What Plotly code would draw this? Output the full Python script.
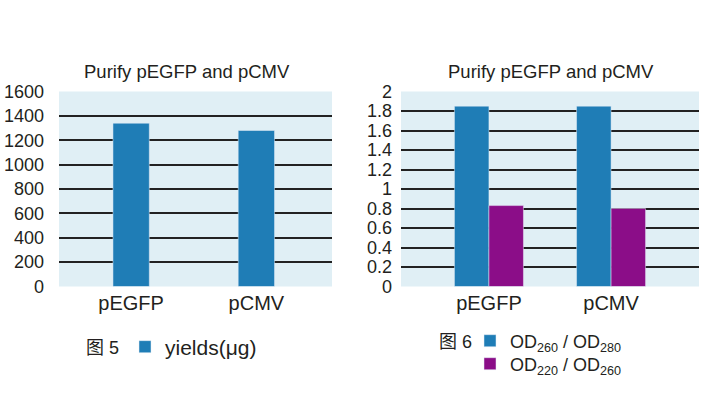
import plotly.graph_objects as go

categories = ["pEGFP", "pCMV"]
yields = [1340, 1280]
od260_280 = [1.85, 1.85]
od220_260 = [0.83, 0.80]

left_ticks = [0, 200, 400, 600, 800, 1000, 1200, 1400, 1600]
left_grid = [200, 400, 600, 800, 1000, 1200, 1400]
right_ticks = [0, 0.2, 0.4, 0.6, 0.8, 1, 1.2, 1.4, 1.6, 1.8, 2]
right_ticktext = ["0", "0.2", "0.4", "0.6", "0.8", "1", "1.2", "1.4", "1.6", "1.8", "2"]
right_grid = [0.2, 0.4, 0.6, 0.8, 1, 1.2, 1.4, 1.6, 1.8]

BLUE = "#1f7db6"
PURPLE = "#8b0d88"
BG = "#e0eff5"
FONT = "Liberation Sans, Arial, Noto Sans CJK SC"
TXT = "#231f20"

W, H = 706, 397
def px(x):
    return x / W
def py(y):
    return (H - y) / H

fig = go.Figure()
fig.add_trace(go.Bar(x=categories, y=yields, name="yields(μg)", marker_color=BLUE,
                     width=0.29, xaxis="x", yaxis="y", legend="legend", showlegend=True))
fig.add_trace(go.Bar(x=categories, y=od260_280, name="OD<sub>260</sub> / OD<sub>280</sub>",
                     marker_color=BLUE, xaxis="x2", yaxis="y2", legend="legend2", showlegend=True))
fig.add_trace(go.Bar(x=categories, y=od220_260, name="OD<sub>220</sub> / OD<sub>260</sub>",
                     marker_color=PURPLE, xaxis="x2", yaxis="y2", legend="legend3", showlegend=True))

ydom = [py(286.5), py(91.5)]
def yax(rng, vals, grid, standoff, text=None):
    d = dict(domain=ydom, range=rng, tickmode="array", tickvals=vals,
             showgrid=False, zeroline=False, showline=False, ticks="inside", ticklen=0,
             automargin=False, ticklabelstandoff=standoff,
             tickfont=dict(family=FONT, size=18, color=TXT),
             minor=dict(tickmode="array", tickvals=grid, ticks="outside", ticklen=0,
                        showgrid=True, gridcolor="#222222", gridwidth=1.6))
    if text is not None:
        d["ticktext"] = text
    return d

common_x = dict(showgrid=False, zeroline=False, showline=False, ticks="", automargin=False,
                tickfont=dict(family=FONT, size=20, color=TXT), ticklabelstandoff=2)
leg = dict(xanchor="left", yanchor="middle", orientation="v", bgcolor="rgba(0,0,0,0)")

fig.update_layout(
    width=W, height=H,
    margin=dict(l=0, r=0, t=0, b=0),
    paper_bgcolor="white",
    plot_bgcolor=BG,
    showlegend=True,
    barmode="group",
    bargap=0.435,
    bargroupgap=0,
    font=dict(family=FONT, color=TXT),
    xaxis=dict(domain=[px(59), px(332)], range=[-0.576, 1.604], anchor="y", **common_x),
    yaxis=dict(anchor="x", **yax([0, 1600], left_ticks, left_grid, 14)),
    xaxis2=dict(domain=[px(401), px(699)], range=[-0.72, 1.72], anchor="y2", **common_x),
    yaxis2=dict(anchor="x2", **yax([0, 2], right_ticks, right_grid, 8, right_ticktext)),
    legend=dict(x=px(125), y=py(347), font=dict(family=FONT, size=21, color=TXT), **leg),
    legend2=dict(x=px(470), y=py(341), font=dict(family=FONT, size=18, color=TXT), **leg),
    legend3=dict(x=px(470), y=py(364), font=dict(family=FONT, size=18, color=TXT), **leg),
    annotations=[
        dict(text="Purify pEGFP and pCMV", x=px(187), y=py(71), xref="paper", yref="paper",
             showarrow=False, xanchor="center", yanchor="middle",
             font=dict(family=FONT, size=18.5, color=TXT)),
        dict(text="Purify pEGFP and pCMV", x=px(551), y=py(71), xref="paper", yref="paper",
             showarrow=False, xanchor="center", yanchor="middle",
             font=dict(family=FONT, size=18.5, color=TXT)),
        dict(text="图 5", x=px(84), y=py(348), xref="paper", yref="paper",
             showarrow=False, xanchor="left", yanchor="middle",
             font=dict(family=FONT, size=18, color=TXT)),
        dict(text="图 6", x=px(437), y=py(342), xref="paper", yref="paper",
             showarrow=False, xanchor="left", yanchor="middle",
             font=dict(family=FONT, size=18, color=TXT)),
    ],
)

fig.write_html("out.html", config={"displayModeBar": False},
               post_script="document.body.style.margin='0';document.body.style.overflow='hidden';")
